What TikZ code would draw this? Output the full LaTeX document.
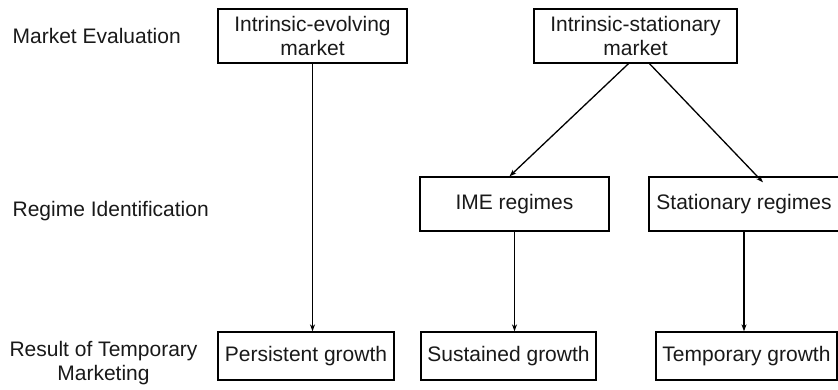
\documentclass[tikz,border=0pt]{standalone}
\usepackage{fontspec}
\setmainfont{Liberation Sans}
\usetikzlibrary{arrows.meta}
\begin{document}
\begin{tikzpicture}[
  x=1pt, y=-1pt,
  line width=1.3pt,
  >={Stealth[length=7pt,width=5pt]},
  block/.style={rectangle, draw, inner sep=0pt, align=center, text=black!90},
  stage/.style={inner sep=0pt, align=center, text=black!90},
  font=\fontsize{21}{24}\selectfont
]
\useasboundingbox (0,0) rectangle (838,390);

% Stage labels
\node[stage, anchor=west] (evaluation) at (12,36) {Market Evaluation};
\node[stage, anchor=west] (identification) at (12,211) {Regime Identification};
\node[stage] (result) at (103.5,363) {Result of Temporary\\Marketing};

% Market nodes
\node[block, minimum width=189pt, minimum height=54pt] (evolving) at (312.5,36) {Intrinsic-evolving\\market};
\node[block, minimum width=203pt, minimum height=54pt] (stationary) at (635.5,36) {Intrinsic-stationary\\market};

% Regime nodes
\node[block, minimum width=189pt, minimum height=54pt] (ime) at (514.5,204) {IME regimes};
\node[block, minimum width=190pt, minimum height=54pt] (statreg) at (744,204) {Stationary regimes};

% Result nodes
\node[block, minimum width=176pt, minimum height=48pt] (persistent) at (306,356) {Persistent growth};
\node[block, minimum width=175pt, minimum height=48pt] (sustained) at (508.5,356) {Sustained growth};
\node[block, minimum width=181pt, minimum height=48pt] (temporary) at (746.5,356) {Temporary growth};

% Arrows
\draw[->] (evolving.south) -- (evolving.south |- persistent.north);
\draw[->] ([xshift=-7pt]stationary.south) -- ([xshift=-5pt]ime.north);
\draw[->] ([xshift=14pt]stationary.south) -- ([xshift=19pt,yshift=-6pt]statreg.north);
\draw[->] (ime.south) -- (ime.south |- sustained.north);
\draw[->] (statreg.south) -- (statreg.south |- temporary.north);
\end{tikzpicture}
\end{document}
